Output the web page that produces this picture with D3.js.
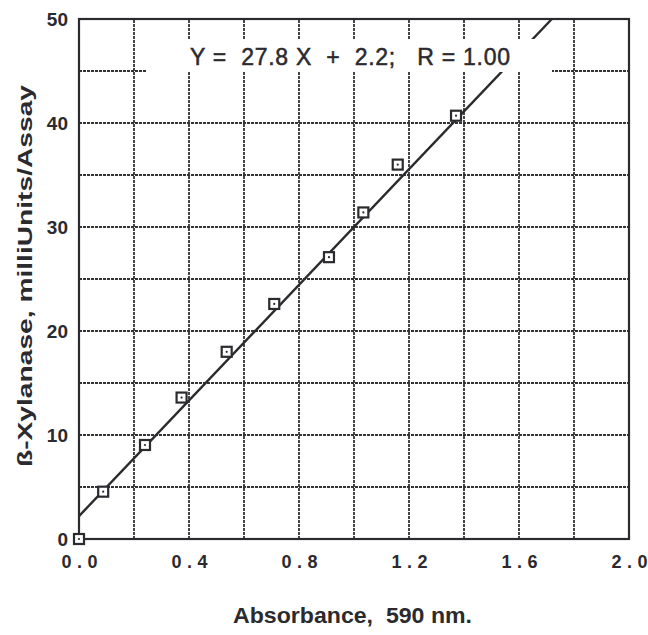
<!DOCTYPE html>
<html><head><meta charset="utf-8">
<script src="https://cdn.jsdelivr.net/npm/d3@7"></script>
<style>body{margin:0;background:#fff;}svg{display:block;} text{white-space:pre;}</style>
</head><body>
<script>
const absorbance = [0.0, 0.088, 0.24, 0.373, 0.537, 0.71, 0.909, 1.034, 1.159, 1.371];
const activity   = [0.0, 4.55, 9.04, 13.6, 18.0, 22.6, 27.1, 31.4, 36.0, 40.7];
const slope = 27.8, intercept = 2.2;
const xTicks = [0.0, 0.4, 0.8, 1.2, 1.6, 2.0];
const yTicks = [0, 10, 20, 30, 40, 50];
const xGrid = [0.2, 0.4, 0.6, 0.8, 1.0, 1.2, 1.4, 1.6, 1.8];
const yGrid = [5, 10, 15, 20, 25, 30, 35, 40, 45];
const equation = "Y =  27.8 X  +  2.2;   R = 1.00";
const xTitle = "Absorbance,  590 nm.";
const yTitle = "ß-Xylanase, milliUnits/Assay";

const W = 648, H = 635;
const m = {left: 79, right: 19, top: 19, bottom: 96};
const ink = "#2b2a2e";
const font = "Liberation Sans, Arial, sans-serif";
const svg = d3.select("body").append("svg").attr("width", W).attr("height", H);
const x = d3.scaleLinear().domain([0, 2]).range([m.left, W - m.right]);
const y = d3.scaleLinear().domain([0, 50]).range([H - m.bottom, m.top]);

// grid
svg.append("g").selectAll("line").data(xGrid).join("line")
  .attr("x1", d => x(d)).attr("x2", d => x(d)).attr("y1", y(0)).attr("y2", y(50))
  .attr("stroke", "#333").attr("stroke-width", 1.8).attr("stroke-dasharray", "3,1");
svg.append("g").selectAll("line").data(yGrid).join("line")
  .attr("y1", d => y(d)).attr("y2", d => y(d)).attr("x1", x(0)).attr("x2", x(2))
  .attr("stroke", "#333").attr("stroke-width", 1.8).attr("stroke-dasharray", "3,1");

// regression line
const xEnd = (50 - intercept) / slope;
svg.append("line")
  .attr("x1", x(0)).attr("y1", y(intercept))
  .attr("x2", x(xEnd)).attr("y2", y(50))
  .attr("stroke", ink).attr("stroke-width", 2.4);

// equation box
svg.append("rect").attr("x", 146).attr("y", 39).attr("width", 406).attr("height", 33).attr("fill", "#fff");
svg.append("text").attr("x", 190).attr("y", 65)
  .attr("font-family", font).attr("font-size", 23)
  .attr("textLength", 320).attr("lengthAdjust", "spacing")
  .attr("fill", ink).attr("stroke", ink).attr("stroke-width", 0.5).text(equation);

// frame
svg.append("rect").attr("x", x(0)).attr("y", y(50)).attr("width", x(2) - x(0)).attr("height", y(0) - y(50))
  .attr("fill", "none").attr("stroke", ink).attr("stroke-width", 2.2);

// points
const pts = absorbance.map((a, i) => [a, activity[i]]);
const g = svg.append("g");
g.selectAll("rect").data(pts).join("rect")
  .attr("x", d => x(d[0]) - 5).attr("y", d => y(d[1]) - 5)
  .attr("width", 10).attr("height", 10)
  .attr("fill", "#fff").attr("stroke", ink).attr("stroke-width", 2.2);
g.selectAll("circle").data(pts).join("circle")
  .attr("cx", d => x(d[0])).attr("cy", d => y(d[1])).attr("r", 1.1).attr("fill", ink);

// axes labels
const xAxis = d3.axisBottom(x).tickValues(xTicks).tickFormat(d3.format(".1f")).tickSize(0).tickPadding(16);
const gx = svg.append("g").attr("transform", `translate(0,${y(0)})`).call(xAxis);
gx.select(".domain").remove();
gx.selectAll("text").attr("font-family", font).attr("font-size", 18)
  .attr("font-weight", "bold").attr("fill", ink)
  .attr("textLength", 36).attr("lengthAdjust", "spacing");

const yAxis = d3.axisLeft(y).tickValues(yTicks).tickFormat(d3.format("d")).tickSize(0).tickPadding(11);
const gy = svg.append("g").attr("transform", `translate(${x(0)},0)`).call(yAxis);
gy.select(".domain").remove();
gy.selectAll("text").attr("font-family", font).attr("font-size", 19)
  .attr("font-weight", "bold").attr("fill", ink);

svg.append("text").attr("x", 233).attr("y", 623)
  .attr("font-family", font).attr("font-size", 22)
  .attr("textLength", 239).attr("lengthAdjust", "spacingAndGlyphs")
  .attr("font-weight", "bold").attr("fill", ink).text(xTitle);

svg.append("text").attr("transform", "translate(32,467) rotate(-90)")
  .attr("font-family", font).attr("font-size", 20)
  .attr("textLength", 382).attr("lengthAdjust", "spacingAndGlyphs")
  .attr("font-weight", "bold").attr("fill", ink).text(yTitle);
</script>
</body></html>
